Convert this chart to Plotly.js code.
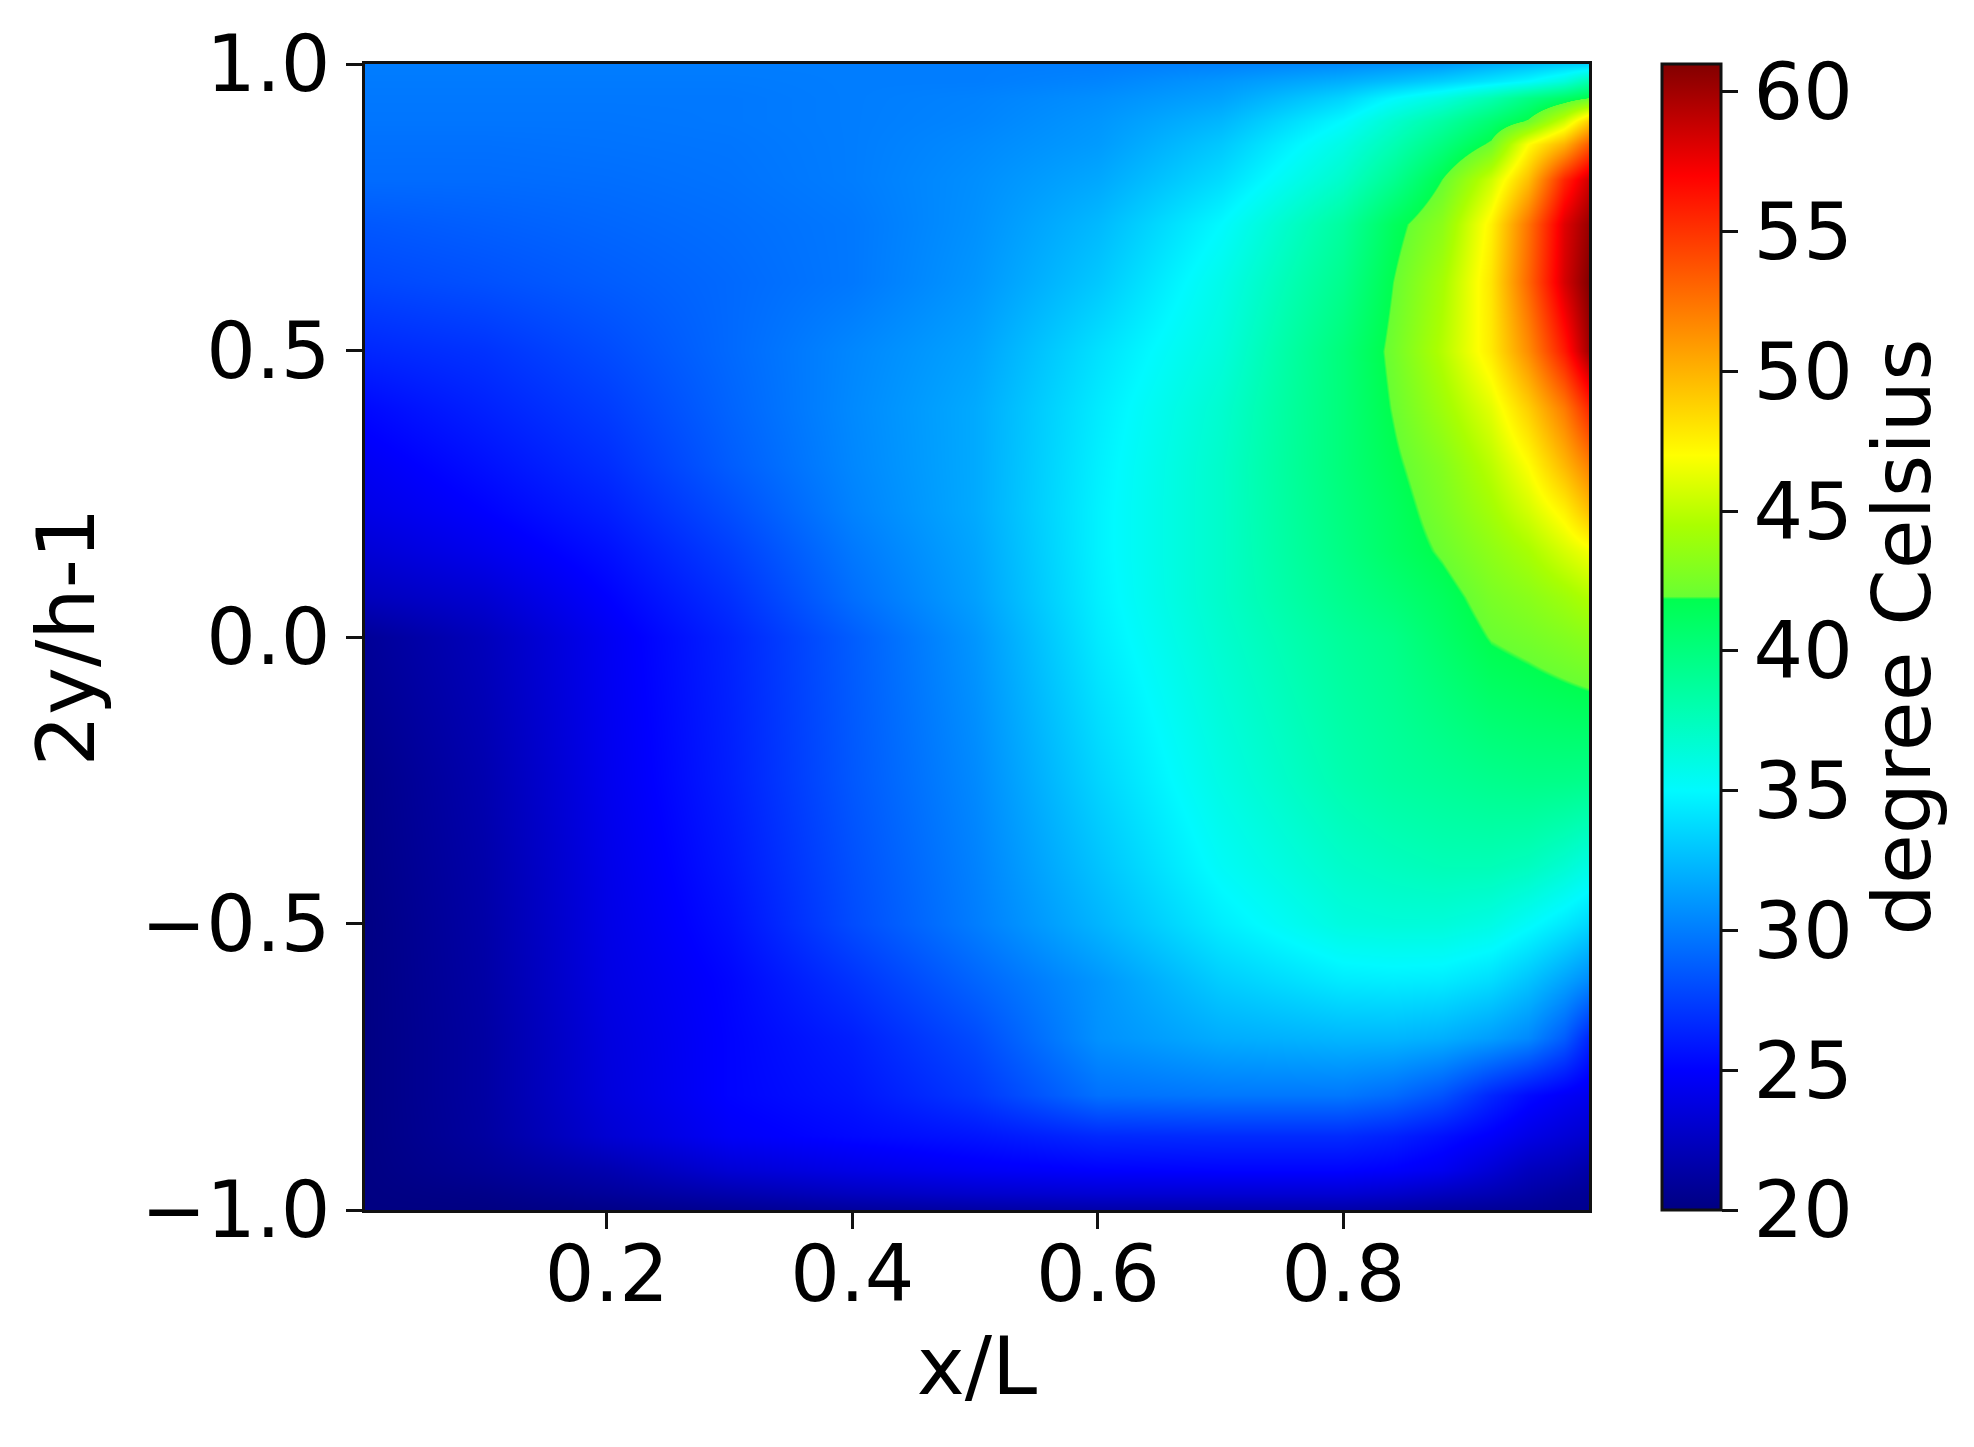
<!DOCTYPE html>
<html>
<head>
<meta charset="utf-8">
<script src="https://cdn.plot.ly/plotly-3.0.1.min.js"></script>
<style>html,body{margin:0;padding:0;background:#fff}</style>
</head>
<body>
<div id="chart" style="width:1974px;height:1447px"></div>
<script>
const xValues = [0, 0.1, 0.2, 0.3, 0.4, 0.5, 0.6, 0.7, 0.8, 0.84, 0.88, 0.92, 0.95, 0.98, 1];
const yValues = [-1, -0.97, -0.93, -0.87, -0.8, -0.7, -0.6, -0.5, -0.4, -0.25, 0, 0.07, 0.15, 0.22, 0.3, 0.4, 0.5, 0.62, 0.72, 0.8, 0.86, 0.9, 0.94, 0.97, 1];
const rowM100 = [20,20,20.2,20.6,21,21.3,21.5,21.5,21.5,21.3,21,20.8,20.7,20.5,20.5];
const rowM097 = [20,20.3,21,21.8,22.5,23,23.3,23.3,23.3,23,22.5,22,21.5,21,20.8];
const rowM093 = [20,20.8,21.8,23.3,24,24.6,25,25.1,25.1,24.9,24.4,23.3,22.4,22,21.5];
const rowM087 = [20,21.2,23.2,24.7,25.3,25.8,26.6,26.7,26.7,26.3,25.6,24.8,24,23.4,23];
const rowM080 = [20,21.3,23.6,25.1,25.8,27.2,29.5,29.8,29.8,29.3,28.3,26.5,25.4,24.7,24.3];
const rowM070 = [20,21.3,23.7,25.1,26.2,28,30.8,31.9,32.3,32.3,32,31.3,30.5,28.7,26.5];
const rowM060 = [20,21.4,23.9,25.2,27,29,31,33.2,34.4,34.5,34.4,33.8,32.8,31.5,30.5];
const rowM050 = [20,21.5,24,25.6,28,30,32.2,34.5,36.2,36.4,36.4,36,35.2,34.3,33.6];
const rowM040 = [20.1,21.6,24.1,25.9,28.2,30.2,32.8,35.3,37,37.4,37.7,37.7,37.4,36.7,36];
const rowM025 = [20.2,21.8,24.3,26.2,28.5,30.5,33.5,36,38,38.6,39,39.4,39.6,39.6,39.5];
const rowP000 = [20.8,22.3,24.5,26.4,28.7,31,34.4,36.8,38.9,39.6,40.8,42,42.4,42.9,43.3];
const rowP007 = [22.3,23.2,25,26.9,29.4,31.4,34.6,37,39.4,40.3,41.3,42.6,43.2,44,44.7];
const rowP015 = [23.3,24.3,25.6,27.5,29.8,31.6,34.7,37,39.8,41,42.1,43.4,44.4,45.8,46.7];
const rowP022 = [24,25,26.2,28.1,30.2,31.8,34.7,37,40,41.2,42.6,44.2,45.7,47.5,49.5];
const rowP030 = [24.5,25.6,26.8,28.7,30.4,31.8,34.6,37,40.2,41.6,43,45,47,49.8,52];
const rowP040 = [25.3,26.3,27.4,29,30.5,31.8,34.4,36.8,40.2,42,44,46.2,48.9,52.2,55.5];
const rowP050 = [26.5,27,28,29.2,30.4,31.5,34,36.3,40.2,42.3,44.8,47.8,51.5,56,60];
const rowP062 = [27.8,28.2,28.7,29.2,29.8,31,33,35.8,39.4,41.9,44.3,48,53,58.3,61];
const rowP072 = [28.5,28.8,29.1,29.4,29.8,30.8,32.4,35,38.7,41.3,43.3,47.5,52.5,58,60.3];
const rowP080 = [29.3,29.3,29.4,29.6,30,30.7,31.7,33.8,37,39.2,41.9,45.5,49.5,55.5,58.5];
const rowP086 = [29.5,29.5,29.6,29.7,30,30.5,31.2,33,36,37.8,39.9,42.2,47,50,53.5];
const rowP090 = [29.7,29.7,29.7,29.8,30,30.3,31,32.3,35,36.8,38.5,40.5,42.1,45.5,49];
const rowP094 = [29.8,29.8,29.8,29.8,30,30.2,30.7,31.5,33.5,35,36.2,38,39.7,41,42];
const rowP097 = [29.9,29.9,29.9,29.9,30,30,30.3,31,32,32.6,33.3,34.2,35,36.3,38];
const rowP100 = [30,30,30,30,30,30,30,30.2,30.6,30.9,31.2,32,32.6,33.2,33.5];
const zValues = [rowM100,rowM097,rowM093,rowM087,rowM080,rowM070,rowM060,rowM050,rowM040,rowM025,rowP000,rowP007,rowP015,rowP022,rowP030,rowP040,rowP050,rowP062,rowP072,rowP080,rowP086,rowP090,rowP094,rowP097,rowP100];

const scaleTemps = [20, 25, 30, 35, 38, 41.85, 41.95, 44.5, 47, 52, 57, 61];
const scaleColors = ['rgb(0,0,130)','rgb(0,0,255)','rgb(0,125,255)','rgb(0,250,255)','rgb(0,255,175)','rgb(0,255,80)','rgb(105,255,50)','rgb(170,255,0)','rgb(255,255,0)','rgb(255,128,0)','rgb(255,0,0)','rgb(130,0,0)'];
const zMin = 20, zMax = 61;
const colorscale = scaleTemps.map((t, i) => [(t - zMin) / (zMax - zMin), scaleColors[i]]);

const xTicks = [0.2, 0.4, 0.6, 0.8];
const yTicks = [-1, -0.5, 0, 0.5, 1];
const barTicks = [20, 25, 30, 35, 40, 45, 50, 55, 60];
const FONT = 'DejaVu Sans, sans-serif';

Plotly.newPlot('chart', [{
  type: 'heatmap', x: xValues, y: yValues, z: zValues,
  zsmooth: 'best', zmin: zMin, zmax: zMax, colorscale: colorscale,
  hoverinfo: 'skip',
  colorbar: {
    x: 1.0596, xanchor: 'left', y: 0.5, yanchor: 'middle', len: 1, lenmode: 'fraction',
    thickness: 59, thicknessmode: 'pixels', xpad: 0, ypad: 0,
    outlinewidth: 3, outlinecolor: '#111',
    tickmode: 'array', tickvals: barTicks, ticks: 'outside', ticklen: 16, tickwidth: 3, tickcolor: '#111',
    tickfont: {family: FONT, size: 78, color: '#000'},
    title: {text: 'degree Celsius', side: 'right', font: {family: FONT, size: 81, color: '#000'}}
  }
}], {
  width: 1974, height: 1447,
  margin: {l: 365, r: 385, t: 64, b: 237, pad: 0},
  paper_bgcolor: '#fff', plot_bgcolor: '#fff',
  xaxis: {
    range: [0.003, 1], tickmode: 'array', tickvals: xTicks, tickformat: '.1f',
    ticks: 'outside', ticklen: 16, tickwidth: 3, tickcolor: '#111',
    showline: true, mirror: true, linecolor: '#111', linewidth: 3, showgrid: false, zeroline: false,
    tickfont: {family: FONT, size: 78, color: '#000'}, ticklabelstandoff: -22,
    title: {text: 'x/L', font: {family: FONT, size: 81, color: '#000'}, standoff: 0}
  },
  yaxis: {
    range: [-1, 1], tickmode: 'array', tickvals: yTicks, tickformat: '.1f',
    ticks: 'outside', ticklen: 16, tickwidth: 3, tickcolor: '#111',
    showline: true, mirror: true, linecolor: '#111', linewidth: 3, showgrid: false, zeroline: false,
    tickfont: {family: FONT, size: 78, color: '#000'},
    title: {text: '2y/h-1', font: {family: FONT, size: 81, color: '#000'}, standoff: 20}
  }
}, {displayModeBar: false, staticPlot: true});
</script>
</body>
</html>
